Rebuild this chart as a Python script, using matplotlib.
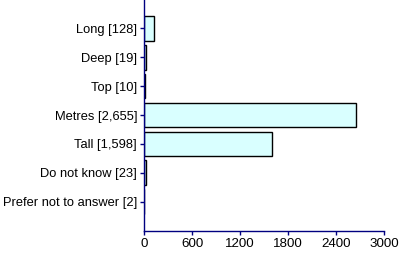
import matplotlib
matplotlib.use("Agg")
from matplotlib import pyplot as plt

categories = ["Long [128]", "Deep [19]", "Top [10]", "Metres [2,655]",
              "Tall [1,598]", "Do not know [23]", "Prefer not to answer [2]"]
values = [128, 19, 10, 2655, 1598, 23, 2]
xticks = [0, 600, 1200, 1800, 2400, 3000]

plt.rcParams['font.family'] = ['Liberation Sans', 'DejaVu Sans']
axis_col = '#000080'

fig = plt.figure(figsize=(4, 2.54), dpi=100)
ax = fig.add_axes([0.36, 0.091, 0.6, 0.909])

pos = list(range(len(categories)))
ax.barh(pos, values, height=0.86, color='#D9FFFF', edgecolor='black', linewidth=1)

ax.set_ylim(7.0, -0.97)
ax.set_xlim(0, 3000)
ax.set_yticks(pos)
ax.set_yticklabels(categories, fontsize=9.3)
ax.set_xticks(xticks)
ax.set_xticklabels([str(t) for t in xticks], fontsize=9.6)

for s in ['top', 'right']:
    ax.spines[s].set_visible(False)
for s in ['left', 'bottom']:
    ax.spines[s].set_color(axis_col)
    ax.spines[s].set_linewidth(1)
ax.tick_params(axis='both', colors=axis_col, labelcolor='black', length=3, width=1, pad=2)

fig.savefig("out.png", dpi=100)
